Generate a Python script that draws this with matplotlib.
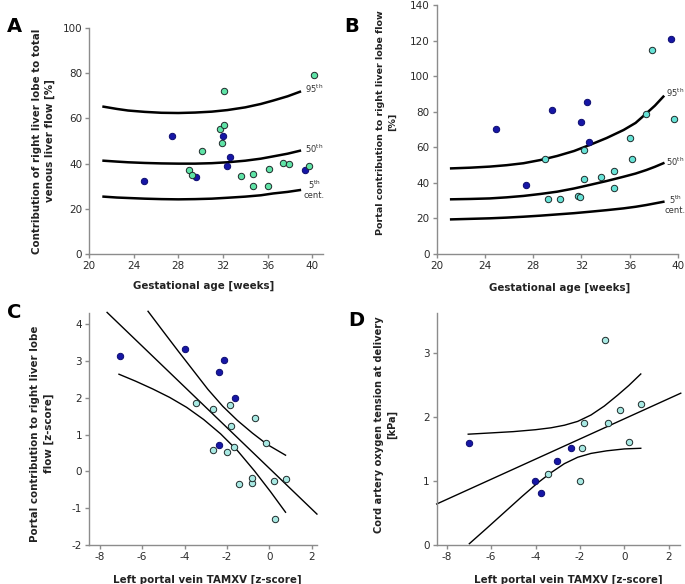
import numpy as np
import matplotlib
matplotlib.use('Agg')
import matplotlib.pyplot as plt

# ---------------------------------------------------------------------------
# Data
# ---------------------------------------------------------------------------

# Panel A: contribution of right lobe to total venous liver flow [%]
a_dark_ga = [24.9, 27.4, 29.6, 32.0, 32.6, 32.4, 39.4]
a_dark_val = [32.2, 52.1, 34.1, 52.1, 42.8, 39.1, 37.2]
a_light_ga = [40.2, 32.1, 31.7, 32.1, 31.9, 30.1, 29.0, 29.2, 33.6, 34.7,
              34.7, 36.0, 36.1, 37.4, 37.9, 39.7]
a_light_val = [79.4, 72.3, 55.3, 57.1, 49.0, 45.6, 37.2, 34.8, 34.4, 35.3,
               29.9, 30.2, 37.5, 40.4, 39.7, 39.1]
a_ref_ga = [21.3, 22.5, 23.5, 25.0, 26.5, 28.0, 29.5, 31.0, 32.4, 34.0,
            35.4, 36.5, 37.8, 38.9]
a_p95 = [65.2, 64.2, 63.5, 62.9, 62.5, 62.4, 62.6, 63.0, 63.7, 64.9,
         66.4, 67.9, 69.8, 71.8]
a_p50 = [41.3, 40.9, 40.6, 40.3, 40.1, 40.0, 40.0, 40.2, 40.6, 41.3,
         42.2, 43.2, 44.4, 45.7]
a_p05 = [25.4, 25.0, 24.8, 24.5, 24.3, 24.2, 24.3, 24.5, 24.9, 25.4,
         26.0, 26.8, 27.5, 28.3]

# Panel B: portal contribution to right liver lobe flow [%]
b_dark_ga = [24.9, 29.6, 32.0, 32.45, 32.6, 27.4, 39.45]
b_dark_val = [70.4, 80.8, 74.1, 85.4, 62.9, 38.7, 121.0]
b_light_ga = [37.9, 37.4, 39.7, 36.0, 36.2, 29.0, 32.2, 32.2, 33.6, 34.7,
              34.7, 31.7, 31.9, 29.2, 30.2]
b_light_val = [114.7, 78.6, 76.2, 65.1, 53.7, 53.7, 58.4, 42.4, 43.5, 46.5,
               37.3, 32.8, 32.3, 31.2, 31.0]
b_ref_ga = [21.2, 22.8, 24.4, 25.8, 27.2, 28.6, 30.0, 31.4, 32.7, 34.1,
            35.5, 36.5, 37.4, 38.1, 38.8]
b_p95 = [48.2, 48.6, 49.2, 50.0, 51.1, 52.9, 55.2, 58.0, 61.4, 65.3,
         69.8, 73.8, 79.2, 83.5, 88.6]
b_p50 = [30.8, 31.0, 31.3, 31.9, 32.7, 33.8, 35.1, 36.9, 38.9, 41.1,
         43.5, 45.3, 47.3, 49.1, 51.1]
b_p05 = [19.5, 19.8, 20.1, 20.5, 21.0, 21.6, 22.3, 23.0, 23.8, 24.7,
         25.7, 26.6, 27.6, 28.5, 29.4]

# Panel C: portal contribution (z) vs left portal vein TAMXV (z)
c_dark_x = [-7.03, -3.97, -2.13, -2.38, -1.61, -2.36]
c_dark_y = [3.13, 3.32, 3.03, 2.71, 2.00, 0.72]
c_light_x = [-3.46, -2.65, -1.86, -0.70, -1.81, -2.64, -1.67, -1.99, -0.15,
             -1.45, -0.82, -0.82, 0.21, 0.76, 0.24]
c_light_y = [1.86, 1.70, 1.80, 1.45, 1.23, 0.58, 0.65, 0.52, 0.77,
             -0.33, -0.31, -0.19, -0.25, -0.20, -1.29]
c_fit_x = [-7.65, 2.24]
c_fit_y = [4.32, -1.16]
c_upper_x = [-5.72, -5.0, -4.3, -3.6, -2.9, -2.2, -1.5, -0.8, -0.1, 0.76]
c_upper_y = [4.35, 3.80, 3.27, 2.75, 2.23, 1.77, 1.38, 1.04, 0.73, 0.44]
c_lower_x = [-7.09, -6.3, -5.5, -4.7, -3.9, -3.1, -2.3, -1.5, -0.7, 0.05, 0.76]
c_lower_y = [2.64, 2.45, 2.24, 2.01, 1.74, 1.41, 1.02, 0.56, 0.01, -0.55, -1.11]

# Panel D: cord artery pO2 [kPa] vs left portal vein TAMXV (z)
d_dark_x = [-7.01, -4.01, -3.77, -3.04, -2.42]
d_dark_y = [1.60, 1.00, 0.81, 1.31, 1.51]
d_light_x = [-0.85, -1.81, -0.75, -0.20, 0.73, -1.89, 0.19, -1.99, -3.46]
d_light_y = [3.20, 1.91, 1.91, 2.11, 2.20, 1.51, 1.61, 1.00, 1.11]
d_fit_x = [-8.45, 2.54]
d_fit_y = [0.64, 2.37]
d_upper_x = [-7.03, -6.0, -5.0, -4.0, -3.3, -2.7, -2.1, -1.5, -0.9, -0.3, 0.2, 0.74]
d_upper_y = [1.73, 1.75, 1.77, 1.80, 1.83, 1.87, 1.93, 2.03, 2.17, 2.34, 2.49, 2.67]
d_lower_x = [-6.98, -6.2, -5.4, -4.6, -3.9, -3.3, -2.7, -2.1, -1.5, -0.8, 0.0, 0.74]
d_lower_y = [0.02, 0.26, 0.51, 0.76, 0.97, 1.13, 1.27, 1.37, 1.43, 1.47, 1.50, 1.51]

DARK = '#1616a6'
DARK_EDGE = '#0c0c70'
GREEN = '#5fe3a6'
CYAN = '#66e2d6'
PALE = '#a8e9e3'
SPINE = '#8c8c8c'

plt.rcParams['font.family'] = 'DejaVu Sans'
plt.rcParams['axes.unicode_minus'] = False


def style_axes(ax):
    for s in ('top', 'right'):
        ax.spines[s].set_visible(False)
    for s in ('left', 'bottom'):
        ax.spines[s].set_color(SPINE)
        ax.spines[s].set_linewidth(1.0)
    ax.tick_params(colors=SPINE, labelcolor='#2a2a2a', labelsize=7.5,
                   length=3, width=1.0, pad=2)


def dots(ax, x, y, color, edge='#1e2a2a'):
    ax.plot(x, y, 'o', ms=4.6, mfc=color, mec=edge, mew=0.7,
            ls='none', clip_on=False, zorder=3)


fig = plt.figure(figsize=(6.85, 5.84), dpi=100)
ax_a = fig.add_axes([0.130, 0.565, 0.342, 0.387])
ax_b = fig.add_axes([0.6375, 0.565, 0.352, 0.426])
ax_c = fig.add_axes([0.130, 0.0668, 0.333, 0.397])
ax_d = fig.add_axes([0.6375, 0.0668, 0.355, 0.397])

lab = dict(fontsize=7.4, fontweight='bold', color='#222222', linespacing=1.4)
pct = dict(fontsize=6, color='#333333', ha='center', va='center', clip_on=False)

# --- A ---
ax = ax_a
style_axes(ax)
for curve in (a_p95, a_p50, a_p05):
    ax.plot(a_ref_ga, curve, color='black', lw=1.8, zorder=2)
dots(ax, a_dark_ga, a_dark_val, DARK, DARK_EDGE)
dots(ax, a_light_ga, a_light_val, GREEN)
ax.text(40.2, 73.0, r'95$^{\mathrm{th}}$', **pct)
ax.text(40.2, 46.5, r'50$^{\mathrm{th}}$', **pct)
ax.text(40.2, 30.5, r'5$^{\mathrm{th}}$', **pct)
ax.text(40.2, 26.0, 'cent.', **pct)
ax.set_xlim(20, 41)
ax.set_ylim(0, 100)
ax.set_xticks([20, 24, 28, 32, 36, 40])
ax.set_yticks([0, 20, 40, 60, 80, 100])
ax.set_xlabel('Gestational age [weeks]', **lab)
ax.set_ylabel('Contribution of right liver lobe to total\nvenous liver flow [%]', **lab)
ax.yaxis.set_label_coords(-0.145, 0.5)
ax.xaxis.set_label_coords(0.49, -0.12)

# --- B ---
ax = ax_b
style_axes(ax)
for curve in (b_p95, b_p50, b_p05):
    ax.plot(b_ref_ga, curve, color='black', lw=1.8, zorder=2)
dots(ax, b_dark_ga, b_dark_val, DARK, DARK_EDGE)
dots(ax, b_light_ga, b_light_val, CYAN)
ax.text(39.8, 91.0, r'95$^{\mathrm{th}}$', **pct)
ax.text(39.8, 52.0, r'50$^{\mathrm{th}}$', **pct)
ax.text(39.8, 30.5, r'5$^{\mathrm{th}}$', **pct)
ax.text(39.8, 24.5, 'cent.', **pct)
ax.set_xlim(20, 40)
ax.set_ylim(0, 140)
ax.set_xticks([20, 24, 28, 32, 36, 40])
ax.set_yticks(range(0, 141, 20))
ax.set_xlabel('Gestational age [weeks]', **lab)
ax.set_ylabel('Portal contribution to right liver lobe flow\n[%]',
              **{**lab, 'fontsize': 6.8})
ax.yaxis.set_label_coords(-0.165, 0.53)
ax.xaxis.set_label_coords(0.51, -0.115)

# --- C ---
ax = ax_c
style_axes(ax)
for xs, ys in ((c_fit_x, c_fit_y), (c_upper_x, c_upper_y), (c_lower_x, c_lower_y)):
    ax.plot(xs, ys, color='black', lw=1.0, zorder=2, clip_on=False)
dots(ax, c_dark_x, c_dark_y, DARK, DARK_EDGE)
dots(ax, c_light_x, c_light_y, PALE)
ax.set_xlim(-8.5, 2.25)
ax.set_ylim(-2, 4.3)
ax.set_xticks([-8, -6, -4, -2, 0, 2])
ax.set_yticks([-2, -1, 0, 1, 2, 3, 4])
ax.set_xlabel('Left portal vein TAMXV [z-score]', **lab)
ax.set_ylabel('Portal contribution to right liver lobe\nflow [z-score]', **lab)
ax.yaxis.set_label_coords(-0.154, 0.48)
ax.xaxis.set_label_coords(0.52, -0.13)

# --- D ---
ax = ax_d
style_axes(ax)
for xs, ys in ((d_fit_x, d_fit_y), (d_upper_x, d_upper_y), (d_lower_x, d_lower_y)):
    ax.plot(xs, ys, color='black', lw=1.0, zorder=2, clip_on=False)
dots(ax, d_dark_x, d_dark_y, DARK, DARK_EDGE)
dots(ax, d_light_x, d_light_y, PALE)
ax.set_xlim(-8.45, 2.5)
ax.set_ylim(0, 3.62)
ax.set_xticks([-8, -6, -4, -2, 0, 2])
ax.set_yticks([0, 1, 2, 3])
ax.set_xlabel('Left portal vein TAMXV [z-score]', **lab)
ax.set_ylabel('Cord artery oxygen tension at delivery\n[kPa]',
              **{**lab, 'fontsize': 7.1})
ax.yaxis.set_label_coords(-0.163, 0.52)
ax.xaxis.set_label_coords(0.54, -0.13)

# panel letters
for txt, x, y in (('A', 0.010, 0.955), ('B', 0.503, 0.955),
                  ('C', 0.010, 0.465), ('D', 0.508, 0.452)):
    fig.text(x, y, txt, fontsize=14, fontweight='bold', ha='left', va='center')

fig.savefig('out.png', dpi=100)
